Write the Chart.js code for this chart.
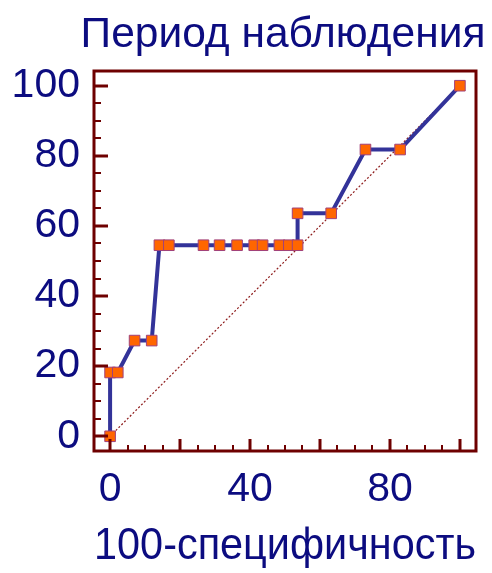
<!DOCTYPE html>
<html lang="ru">
<head>
  <meta charset="UTF-8" />
  <title>Период наблюдения</title>
  <script src="https://cdn.jsdelivr.net/npm/chart.js"></script>
  <style>
    body { margin: 0; background: #fff; }
    #chart { display: block; }
  </style>
</head>
<body>
  <canvas id="chart" width="492" height="573"></canvas>
  <script>
    // ROC points: 100-specificity (x) vs sensitivity (y)
    const fprValues = [0, 0, 2.2, 7.0, 11.9, 14.1, 16.8, 26.7, 31.3, 36.3, 41.2, 43.6, 48.4, 51.1, 53.6, 53.6, 63.2, 73.0, 82.9, 100];
    const tprValues = [0, 18.2, 18.2, 27.3, 27.3, 54.5, 54.5, 54.5, 54.5, 54.5, 54.5, 54.5, 54.5, 54.5, 54.5, 63.6, 63.6, 81.8, 81.8, 100];
    const diagonal = [0, 100];
    const xTickLabels = [0, 40, 80];
    const yTickLabels = [0, 20, 40, 60, 80, 100];
    const chartTitle = 'Период наблюдения';
    const xTitle = '100-специфичность';

    const TEXT = '#0c0c80';
    const FRAME = '#6e0000';
    const FONT = '"Liberation Sans", Arial, sans-serif';

    // frame + inward tick marks, drawn from the scales; title centred over the plot
    const framePlugin = {
      id: 'frame',
      afterDraw(chart) {
        const { ctx, chartArea: a, scales } = chart;
        ctx.save();
        ctx.strokeStyle = FRAME;
        for (let v = 0; v <= 100; v += 5) {
          const major = v % 20 === 0;
          ctx.lineWidth = major ? 3 : 2;
          const y = Math.round(scales.y.getPixelForValue(v));
          ctx.beginPath();
          ctx.moveTo(a.left, y);
          ctx.lineTo(a.left + (major ? 14 : 7), y);
          ctx.stroke();
          const x = Math.round(scales.x.getPixelForValue(v));
          ctx.beginPath();
          ctx.moveTo(x, a.bottom);
          ctx.lineTo(x, a.bottom - (major ? 12 : 6));
          ctx.stroke();
        }
        ctx.lineWidth = 3;
        ctx.strokeRect(a.left, a.top, a.right - a.left, a.bottom - a.top);

        ctx.fillStyle = TEXT;
        ctx.font = '42.5px ' + FONT;
        ctx.textAlign = 'center';
        ctx.textBaseline = 'alphabetic';
        ctx.fillText(chartTitle, (a.left + a.right) / 2 - 2, a.top - 24);
        ctx.restore();
      }
    };

    new Chart(document.getElementById('chart'), {
      type: 'line',
      data: {
        datasets: [
          {
            data: fprValues.map((x, i) => ({ x, y: tprValues[i] })),
            borderColor: '#333399',
            borderWidth: 4,
            pointStyle: 'rect',
            pointRadius: 7.5,
            pointBackgroundColor: '#ff6600',
            pointBorderColor: '#a0407a',
            pointBorderWidth: 1,
            order: 1
          },
          {
            data: diagonal.map(v => ({ x: v, y: v })),
            borderColor: '#8e1c1c',
            borderWidth: 1.2,
            borderDash: [2, 2],
            pointRadius: 0,
            order: 2
          }
        ]
      },
      options: {
        responsive: false,
        animation: false,
        layout: { padding: { top: 71, right: 16 } },
        plugins: {
          legend: { display: false },
          tooltip: { enabled: false },
          title: { display: false }
        },
        scales: {
          x: {
            type: 'linear',
            min: -4.6,
            max: 104.6,
            afterBuildTicks: s => { s.ticks = xTickLabels.map(v => ({ value: v })); },
            afterFit: s => { s.height = 122; },
            grid: { display: false, drawTicks: false },
            border: { display: false },
            ticks: { color: TEXT, font: { family: FONT, size: 41 }, padding: 14, maxRotation: 0 },
            title: {
              display: true,
              text: xTitle,
              color: TEXT,
              font: { family: FONT, size: 43.5 },
              padding: { top: 0, bottom: 0 }
            }
          },
          y: {
            type: 'linear',
            min: -4.2,
            max: 104.2,
            afterBuildTicks: s => { s.ticks = yTickLabels.map(v => ({ value: v })); },
            afterFit: s => { s.width = 94; },
            grid: { display: false, drawTicks: false },
            border: { display: false },
            ticks: { color: TEXT, font: { family: FONT, size: 41 }, padding: 14 }
          }
        }
      },
      plugins: [framePlugin]
    });
  </script>
</body>
</html>
